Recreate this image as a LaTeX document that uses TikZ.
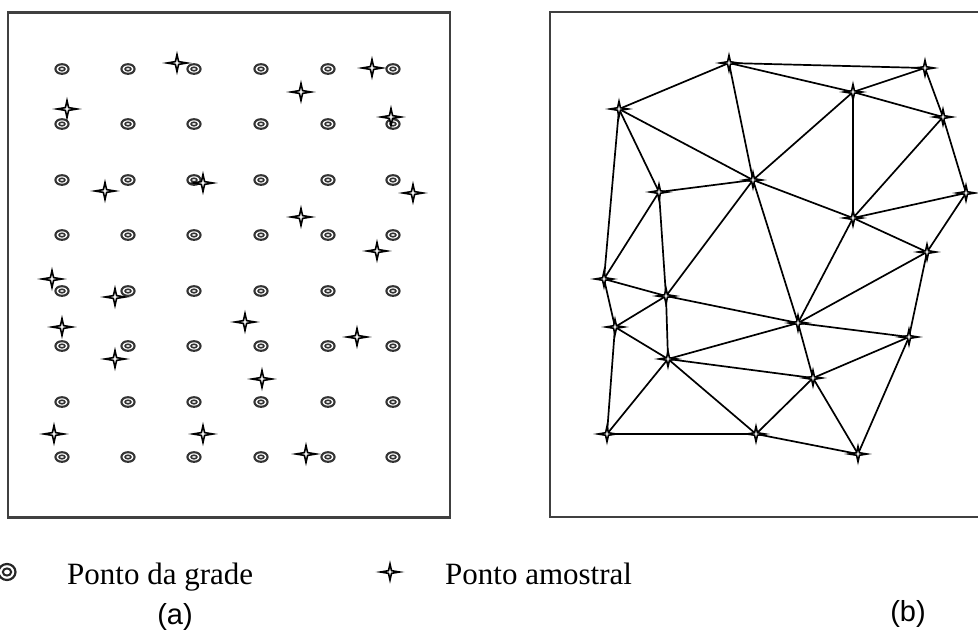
\documentclass[tikz,border=0pt]{standalone}
\usepackage{fontspec}
\setmainfont{Liberation Serif}
\newfontfamily\labelfont{Liberation Sans}
\begin{document}
\begin{tikzpicture}[x=1pt,y=-1pt,
  framebox/.style={draw=black!75,line width=2.2pt},
  tri/.style={draw=black,line width=1.7pt},
  legendtext/.style={anchor=base west,inner sep=0pt,font=\fontsize{31}{36}\selectfont},
  panellabel/.style={anchor=base,inner sep=0pt,font=\labelfont\fontsize{29}{34}\selectfont},
  gradept/.pic={
    \draw[black!80,line width=2.1pt] (0,0) ellipse [x radius=6.6,y radius=4.8];
    \draw[black!80,line width=1.6pt] (0,0) ellipse [x radius=2.9,y radius=1.8];
  },
  gradelegend/.pic={
    \draw[black!85,line width=2.2pt] (0,0) ellipse [x radius=8.5,y radius=8];
    \draw[black!85,line width=2pt] (0,0) ellipse [x radius=4.2,y radius=3.6];
  },
  amostra/.pic={
    \draw[black,line width=1.6pt,fill=white,line join=miter]
      (-10,0) -- (-1.6,-1.4) -- (0,-8.5) -- (1.6,-1.4) -- (10,0) -- (1.6,1.4) -- (0,8.5) -- (-1.6,1.4) -- cycle;
  }]
\useasboundingbox (0,0) rectangle (978,630);
% frames
\node[framebox,minimum width=442pt,minimum height=505pt,inner sep=0pt] (boxa) at (229,265) {};
\draw[framebox] (978,12) -- (550,12) -- (550,517) -- (978,517);
\coordinate (boxb) at (764,265);
% grid points (a)
\foreach \x in {62,128,194,261,328,393}{
  \foreach \y in {69,124,180,235,291,346,402,457}{
    \pic at (\x,\y) {gradept};
  }
}
% sample points (a)
\foreach \p in {(177,63),(372,68),(301,92),(67,109),(391,117),(105,191),(203,183),(413,193),(301,217),(377,251),(52,279),(115,297),(62,327),(245,322),(357,337),(115,359),(262,379),(54,434),(203,434),(306,454)}{
  \pic at \p {amostra};
}
% triangulation (b)
\coordinate (A) at (729,63);
\coordinate (B) at (925,68);
\coordinate (C) at (853,92);
\coordinate (D) at (619,109);
\coordinate (E) at (943,117);
\coordinate (F) at (753,180);
\coordinate (G) at (659,192);
\coordinate (H) at (966,193);
\coordinate (I) at (853,218);
\coordinate (J) at (927,252);
\coordinate (K) at (604,279);
\coordinate (L) at (666,296);
\coordinate (M) at (615,327);
\coordinate (N) at (798,323);
\coordinate (O) at (909,337);
\coordinate (P) at (668,359);
\coordinate (Q) at (813,378);
\coordinate (R) at (607,434);
\coordinate (S) at (756,434);
\coordinate (T) at (858,454);
\foreach \a/\b in {A/B,A/D,A/C,A/F,C/B,C/E,C/F,C/I,B/E,D/F,D/G,D/K,G/F,G/K,G/L,F/L,F/N,F/I,E/I,E/H,I/H,I/J,H/J,I/N,K/L,K/M,L/M,L/N,L/P,M/P,M/R,N/J,N/O,N/P,N/Q,O/J,O/Q,O/T,P/Q,P/R,P/S,Q/S,Q/T,R/S,S/T}{
  \draw[tri] (\a) -- (\b);
}
\foreach \n in {A,B,C,D,E,F,G,H,I,J,K,L,M,N,O,P,Q,R,S,T}{
  \pic[scale=0.9] at (\n) {amostra};
}
% legend
\pic at (7,572) {gradelegend};
\coordinate (leggrade) at (7,572);
\node[legendtext] (txtgrade) at (67,584) {Ponto da grade};
\pic[scale=0.95] at (390,572) {amostra};
\coordinate (legamostra) at (390,572);
\node[legendtext] (txtamostra) at (445,584) {Ponto amostral};
\node[panellabel] (laba) at (175,624) {(a)};
\node[panellabel] (labb) at (908,621) {(b)};
\end{tikzpicture}
\end{document}
